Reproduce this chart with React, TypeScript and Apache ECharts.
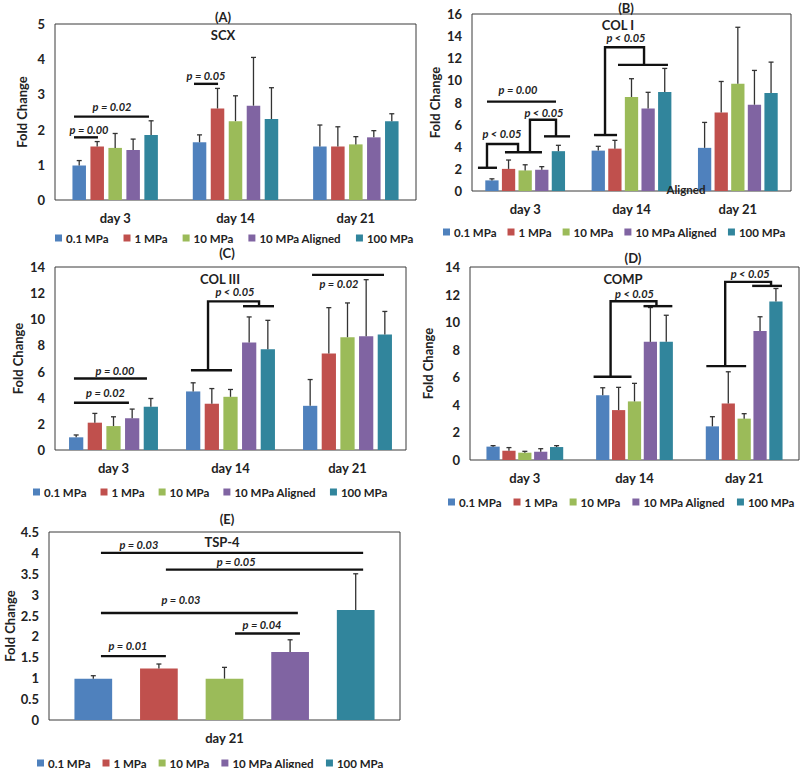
import React, { useEffect, useRef } from 'react';
import * as echarts from 'echarts';

const SERIES_NAMES = ['0.1 MPa', '1 MPa', '10 MPa', '10 MPa Aligned', '100 MPa'];
const COLORS = ['#4F81BD', '#C0504D', '#9BBB59', '#8064A2', '#31859C'];
const DAYS = ['day 3', 'day 14', 'day 21'];
const DAY21 = ['day 21'];

// mean fold change per series (rows) and day (columns)
const SCX_MEAN = [[0.98, 1.64, 1.52], [1.52, 2.6, 1.52], [1.48, 2.24, 1.58], [1.42, 2.68, 1.78], [1.85, 2.3, 2.24]];
const SCX_ERR_TOP = [[1.12, 1.85, 2.13], [1.66, 3.17, 2.08], [1.89, 2.96, 1.8], [1.73, 4.05, 1.97], [2.25, 3.19, 2.45]];

const COL1_MEAN = [[0.96, 3.65, 3.9], [2.0, 3.83, 7.1], [1.86, 8.5, 9.7], [1.92, 7.46, 7.8], [3.6, 8.95, 8.86]];
const COL1_ERR_TOP = [[1.1, 4.04, 6.2], [2.8, 4.58, 9.9], [2.37, 10.15, 14.8], [2.2, 8.92, 10.9], [4.13, 11.08, 11.65]];

const COL3_MEAN = [[0.97, 4.48, 3.38], [2.09, 3.54, 7.38], [1.83, 4.07, 8.63], [2.42, 8.22, 8.7], [3.31, 7.71, 8.83]];
const COL3_ERR_TOP = [[1.15, 5.14, 5.39], [2.8, 4.7, 10.89], [2.54, 4.63, 11.25], [3.13, 10.18, 13.03], [3.94, 9.92, 10.6]];

const COMP_MEAN = [[0.97, 4.69, 2.44], [0.68, 3.62, 4.1], [0.53, 4.25, 3.0], [0.6, 8.57, 9.35], [0.94, 8.57, 11.5]];
const COMP_ERR_TOP = [[1.04, 5.24, 3.14], [0.9, 5.27, 6.4], [0.63, 5.56, 3.36], [0.82, 11.06, 10.39], [1.04, 10.5, 12.44]];

const TSP4_MEAN = [[0.99], [1.23], [0.99], [1.63], [2.63]];
const TSP4_ERR_TOP = [[1.06], [1.34], [1.26], [1.92], [3.5]];

// significance brackets: x in category units, y in fold change
const SCX_SIG = [
  { lines: [[[-0.342, 1.78], [-0.143, 1.78]]], label: 'p = 0.00', at: [-0.217, 2.0] },
  { lines: [[[-0.342, 2.37], [0.281, 2.37]]], label: 'p = 0.02', at: [-0.026, 2.65] },
  { lines: [[[0.655, 3.3], [0.855, 3.3]]], label: 'p = 0.05', at: [0.755, 3.55] },
];
const COL1_SIG = [
  { lines: [[[-0.359, 8.08], [0.29, 8.08]]], label: 'p = 0.00', at: [-0.067, 9.19] },
  {
    lines: [[[-0.444, 2.1], [-0.265, 2.1]], [[-0.359, 2.1], [-0.359, 4.25], [-0.067, 4.25], [-0.067, 3.5]], [[-0.19, 3.5], [0.158, 3.5]]],
    label: 'p < 0.05', at: [-0.218, 5.24],
  },
  {
    lines: [[[0.045, 3.5], [0.045, 6.44], [0.29, 6.44], [0.29, 4.94]], [[0.177, 4.94], [0.422, 4.94]]],
    label: 'p < 0.05', at: [0.177, 7.1],
  },
  {
    lines: [[[0.647, 5.06], [0.864, 5.06]], [[0.751, 5.06], [0.751, 13.0], [1.118, 13.0], [1.118, 11.4]], [[0.873, 11.4], [1.343, 11.4]]],
    label: 'p < 0.05', at: [0.948, 13.85],
  },
];
const COL3_SIG = [
  { lines: [[[-0.338, 5.47], [0.286, 5.47]]], label: 'p = 0.00', at: [0.013, 6.06] },
  { lines: [[[-0.338, 3.61], [0.132, 3.61]]], label: 'p = 0.02', at: [-0.068, 4.4] },
  {
    lines: [[[0.662, 6.1], [1.013, 6.1]], [[0.808, 6.1], [0.808, 11.37], [1.244, 11.37], [1.244, 11.0]], [[1.107, 11.0], [1.372, 11.0]]],
    label: 'p < 0.05', at: [1.038, 12.1],
  },
  { lines: [[[1.697, 13.4], [2.312, 13.4]]], label: 'p = 0.02', at: [1.927, 12.72] },
];
const COMP_SIG = [
  {
    lines: [[[0.627, 6.04], [0.973, 6.04]], [[0.782, 6.04], [0.782, 11.52], [1.2, 11.52], [1.2, 11.16]], [[1.082, 11.16], [1.345, 11.16]]],
    label: 'p < 0.05', at: [1.0, 12.1],
  },
  {
    lines: [[[1.655, 6.81], [2.018, 6.81]], [[1.827, 6.81], [1.827, 12.92], [2.245, 12.92], [2.245, 12.63]], [[2.073, 12.63], [2.345, 12.63]]],
    label: 'p < 0.05', at: [2.055, 13.53],
  },
];
const TSP4_SIG = [
  { lines: [[[-0.352, 4.0], [0.395, 4.0]]], label: 'p = 0.03', at: [-0.244, 4.2] },
  { lines: [[[-0.167, 3.6], [0.395, 3.6]]], label: 'p = 0.05', at: [0.033, 3.8] },
  { lines: [[[-0.352, 2.56], [0.209, 2.56]]], label: 'p = 0.03', at: [-0.124, 2.88] },
  { lines: [[[0.03, 2.07], [0.215, 2.07]]], label: 'p = 0.04', at: [0.107, 2.29] },
  { lines: [[[-0.352, 1.53], [-0.167, 1.53]]], label: 'p = 0.01', at: [-0.275, 1.78] },
];

const FONT = 'Lato, "Open Sans", sans-serif';
const TEXT = '#222';

const PANELS = [
  {
    title: '(A)', gene: 'SCX', cats: DAYS, mean: SCX_MEAN, err: SCX_ERR_TOP, sig: SCX_SIG, max: 5, interval: 1,
    grid: { left: 55, top: 24, width: 361, height: 176 }, bcg: 0.29, bg: 0.33,
    titleXY: [223, 17], geneXY: [223, 35], legend: { left: 55, top: 232, gap: 15 }, nameGap: 27,
  },
  {
    title: '(B)', gene: 'COL I', cats: DAYS, mean: COL1_MEAN, err: COL1_ERR_TOP, sig: COL1_SIG, max: 16, interval: 2,
    grid: { left: 472, top: 14, width: 319, height: 177 }, bcg: 0.25, bg: 0.25,
    titleXY: [626, 8], geneXY: [618, 25], legend: { left: 443, top: 226, gap: 11 }, nameGap: 31,
  },
  {
    title: '(C)', gene: 'COL III', cats: DAYS, mean: COL3_MEAN, err: COL3_ERR_TOP, sig: COL3_SIG, max: 14, interval: 2,
    grid: { left: 55, top: 267, width: 351, height: 183 }, bcg: 0.24, bg: 0.31,
    titleXY: [227, 253], geneXY: [220, 279], legend: { left: 33, top: 486, gap: 14 }, nameGap: 31,
  },
  {
    title: '(D)', gene: 'COMP', cats: DAYS, mean: COMP_MEAN, err: COMP_ERR_TOP, sig: COMP_SIG, max: 14, interval: 2,
    grid: { left: 470, top: 267, width: 329, height: 193 }, bcg: 0.3, bg: 0.2,
    titleXY: [633, 258], geneXY: [623, 279], legend: { left: 448, top: 496, gap: 12 }, nameGap: 36,
  },
  {
    title: '(E)', gene: 'TSP-4', cats: DAY21, mean: TSP4_MEAN, err: TSP4_ERR_TOP, sig: TSP4_SIG, max: 4.5, interval: 0.5,
    grid: { left: 49, top: 532, width: 351, height: 188 }, bcg: 0.145, bg: 0.74,
    titleXY: [227, 519], geneXY: [222, 542], legend: { left: 37, top: 757, gap: 12 }, nameGap: 33,
  },
];

function buildOption() {
  const grid: any[] = [];
  const xAxis: any[] = [];
  const yAxis: any[] = [];
  const series: any[] = [];
  const legend: any[] = [];
  const graphic: any[] = [];

  PANELS.forEach((p, pi) => {
    grid.push({
      ...p.grid, show: true, borderColor: '#3a3a3a', borderWidth: 1, backgroundColor: 'transparent', containLabel: false,
    });
    xAxis.push({
      type: 'category', gridIndex: pi, data: p.cats,
      axisLine: { show: false }, axisTick: { show: false },
      axisLabel: { fontFamily: FONT, fontWeight: 'bold', fontSize: 13, color: TEXT, margin: 11 },
    });
    xAxis.push({ type: 'value', gridIndex: pi, min: -0.5, max: p.cats.length - 0.5, show: false });
    yAxis.push({
      type: 'value', gridIndex: pi, min: 0, max: p.max, interval: p.interval,
      splitLine: { show: false }, axisLine: { show: false }, axisTick: { show: false },
      axisLabel: { fontFamily: FONT, fontWeight: 'bold', fontSize: 13, color: TEXT, margin: 10 },
      name: 'Fold Change', nameLocation: 'middle', nameGap: p.nameGap,
      nameTextStyle: { fontFamily: FONT, fontWeight: 'bold', fontSize: 13, color: TEXT },
    });
    const catAxis = pi * 2;
    const valAxis = pi * 2 + 1;
    SERIES_NAMES.forEach((name, si) => {
      series.push({
        type: 'bar', name, xAxisIndex: catAxis, yAxisIndex: pi, data: p.mean[si],
        barGap: `${Math.round(p.bg * 100)}%`, barCategoryGap: `${(p.bcg * 100).toFixed(1)}%`,
        itemStyle: { color: COLORS[si] }, silent: true,
      });
    });
    const errData: number[][] = [];
    p.mean.forEach((row, si) => row.forEach((m, ci) => errData.push([ci, si, m, p.err[si][ci]])));
    const bcg = p.bcg;
    const bg = p.bg;
    series.push({
      type: 'custom', xAxisIndex: catAxis, yAxisIndex: pi, silent: true, z: 4,
      encode: { x: 0, y: 3 }, data: errData,
      renderItem: (params: any, api: any) => {
        const ci = api.value(0);
        const si = api.value(1);
        const m = api.value(2);
        const e = api.value(3);
        const bandW = api.size([1, 0])[0];
        const barW = (bandW * (1 - bcg)) / (5 + 4 * bg);
        const off = (si - 2) * barW * (1 + bg);
        const b = api.coord([ci, m]);
        const t = api.coord([ci, e]);
        const x = b[0] + off;
        const st = { stroke: '#333', lineWidth: 1.3 };
        return {
          type: 'group',
          children: [
            { type: 'line', shape: { x1: x, y1: b[1], x2: x, y2: t[1] }, style: st },
            { type: 'line', shape: { x1: x - 2.5, y1: t[1], x2: x + 2.5, y2: t[1] }, style: st },
          ],
        };
      },
    });
    const sig = p.sig;
    series.push({
      type: 'custom', xAxisIndex: valAxis, yAxisIndex: pi, silent: true, z: 5,
      encode: { x: 0, y: 1 }, data: sig.map((a, i) => [a.at[0], a.at[1], i]),
      renderItem: (params: any, api: any) => {
        const a = sig[params.dataIndex];
        const children: any[] = a.lines.map((ln: number[][]) => ({
          type: 'polyline',
          shape: { points: ln.map((pt) => api.coord(pt)) },
          style: { stroke: '#111', lineWidth: 2.4, fill: 'none' },
        }));
        const c = api.coord(a.at);
        children.push({
          type: 'text',
          style: {
            text: a.label, x: c[0], y: c[1], align: 'center', verticalAlign: 'middle',
            fontFamily: FONT, fontWeight: 'bold', fontStyle: 'italic', fontSize: 11, fill: TEXT,
          },
        });
        return { type: 'group', children };
      },
    });
    legend.push({
      data: SERIES_NAMES, left: p.legend.left, top: p.legend.top, padding: 0, itemGap: p.legend.gap,
      icon: 'rect', itemWidth: 7, itemHeight: 7, selectedMode: false,
      textStyle: { fontFamily: FONT, fontWeight: 'bold', fontSize: 11.5, color: TEXT, padding: [0, 0, 0, -1] },
    });
    graphic.push({
      type: 'text', x: p.titleXY[0], y: p.titleXY[1],
      style: { text: p.title, align: 'center', verticalAlign: 'middle', fontFamily: FONT, fontWeight: 'bold', fontSize: 13, fill: TEXT },
    });
    graphic.push({
      type: 'text', x: p.geneXY[0], y: p.geneXY[1],
      style: { text: p.gene, align: 'center', verticalAlign: 'middle', fontFamily: FONT, fontWeight: 'bold', fontSize: 13, fill: TEXT },
    });
  });

  graphic.push({
    type: 'text', x: 686, y: 189, z: 10,
    style: { text: 'Aligned', align: 'center', verticalAlign: 'middle', fontFamily: FONT, fontWeight: 'bold', fontSize: 11.5, fill: TEXT },
  });

  return {
    animation: false,
    backgroundColor: '#ffffff',
    textStyle: { fontFamily: FONT },
    grid, xAxis, yAxis, series, legend, graphic,
  };
}

export default function App() {
  const ref = useRef<HTMLDivElement>(null);
  useEffect(() => {
    if (!ref.current) return;
    const chart = echarts.init(ref.current, null, { renderer: 'svg' });
    chart.setOption(buildOption() as any);
    return () => chart.dispose();
  }, []);
  return <div ref={ref} style={{ position: 'absolute', left: 0, top: 0, width: 800, height: 768 }} />;
}
